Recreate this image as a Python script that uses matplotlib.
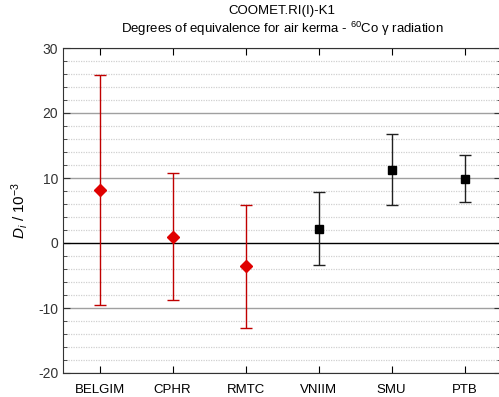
import matplotlib
matplotlib.use('Agg')
import matplotlib.pyplot as plt
import numpy as np

plt.rcParams['font.family'] = ['Liberation Sans', 'DejaVu Sans']
plt.rcParams['mathtext.fontset'] = 'custom'
plt.rcParams['mathtext.rm'] = 'Liberation Sans'
plt.rcParams['mathtext.it'] = 'Liberation Sans:italic'
plt.rcParams['axes.unicode_minus'] = False

labs = ['BELGIM', 'CPHR', 'RMTC', 'VNIIM', 'SMU', 'PTB']
di = [8.2, 1.0, -3.6, 2.2, 11.3, 9.9]
unc = [17.7, 9.7, 9.5, 5.6, 5.4, 3.6]
red_labs = ['BELGIM', 'CPHR', 'RMTC']

fig = plt.figure(figsize=(4.99, 3.97), dpi=100)
ax = fig.add_axes([63 / 499, 24 / 397, 438 / 499, 325 / 397])

xpos = np.arange(1, len(labs) + 1)

# grid
for y in np.arange(-20, 31, 2):
    if y == 0:
        continue
    if y % 10 == 0:
        ax.axhline(y, color='#a0a0a0', lw=1.0, zorder=1)
    else:
        ax.axhline(y, color='#d0d0d0', lw=0.9, ls=(0, (1, 1)), zorder=1)
ax.axhline(0, color='k', lw=1.0, zorder=2)

for x, d, u, lab in zip(xpos, di, unc, labs):
    if lab in red_labs:
        ax.errorbar(x, d, yerr=u, fmt='D', color='#e00000', ecolor='#c00000',
                    ms=6, elinewidth=1.0, capsize=4, capthick=1.0, zorder=3)
    else:
        ax.errorbar(x, d, yerr=u, fmt='s', color='black', ecolor='#202020',
                    ms=6, elinewidth=1.0, capsize=4, capthick=1.0, zorder=3)

ax.set_xlim(0.5, 6.5)
ax.set_ylim(-20, 30)
ax.set_xticks(xpos)
ax.set_xticklabels(labs, fontsize=9.5)
ax.set_yticks([-20, -10, 0, 10, 20, 30])
ax.set_yticks(np.arange(-20, 31, 2), minor=True)
ax.tick_params(axis='y', which='both', direction='in', right=True, labelsize=10, colors='#333333')
ax.tick_params(axis='y', which='major', length=5)
ax.tick_params(axis='y', which='minor', length=3)
ax.tick_params(axis='x', direction='in', top=True, length=5, labelsize=9.5, pad=8)
for s in ax.spines.values():
    s.set_color('#333333')

ax.set_ylabel(r'$D_i$ / 10$^{-3}$', fontsize=11, labelpad=6)

fig.text(0.565, 0.972, 'COOMET.RI(I)-K1', ha='center', va='center', fontsize=9.5)
fig.text(0.565, 0.927, r'Degrees of equivalence for air kerma - $^{60}$Co γ radiation',
         ha='center', va='center', fontsize=9.5)

fig.savefig('out.png', dpi=100)
